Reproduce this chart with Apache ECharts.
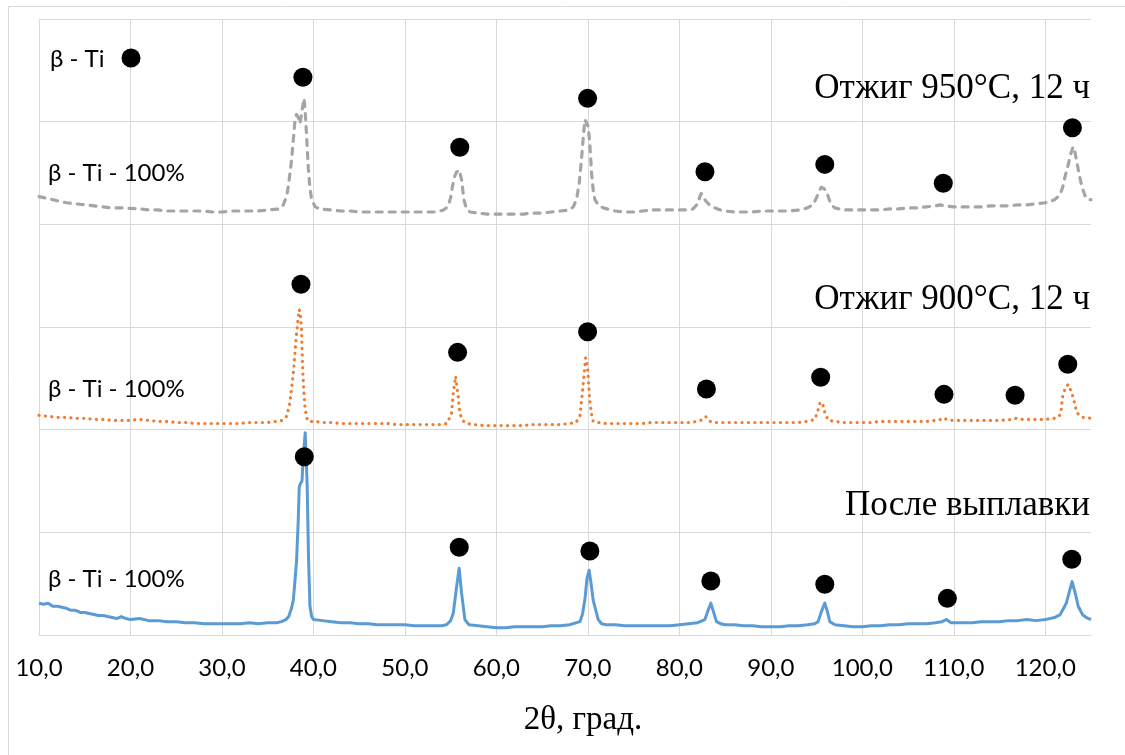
<!DOCTYPE html>
<html>
<head>
<meta charset="utf-8">
<script src="https://cdn.jsdelivr.net/npm/echarts@6/dist/echarts.min.js"></script>
<style>
  html, body { margin: 0; padding: 0; background: #fff; }
  #chart { width: 1125px; height: 755px; }
</style>
</head>
<body>
<div id="chart"></div>
<script>
// X-ray diffraction patterns of the alloy, stacked with vertical offsets.
// Each point is [2θ (deg), intensity (arb. units, offset)].

// as-cast (После выплавки)
const castPattern = [
  [10,31],[10.5,30],[11,31],[11.5,28],[12,28],[12.5,27],[13,26],[13.5,24],[14,24],[14.5,22],
  [15,22],[15.5,21],[16,20],[16.5,19],[17,19],[17.5,18],[18,17],[18.5,16],[19,18],[19.5,16],
  [20,15],[21,16],[22,14],[23,14],[24,13],[25,13],[26,12],[27,12],[28,11],[29,11],[30,11],
  [31,11],[32,11],[33,12],[34,11],[35,12],[36,12],[36.5,13],[37,15],[37.3,18],[37.6,26],
  [37.8,34],[38.0,55],[38.16,73],[38.34,112],[38.45,144],[38.6,148],[38.75,150],[38.89,174],
  [39.1,197],[39.22,170],[39.32,144],[39.47,73],[39.62,28],[39.8,18],[40,15],[41,14],[42,13],
  [43,12],[44,12],[45,11],[46,11],[47,10],[48,10],[49,10],[50,10],[51,9],[52,9],[53,9],[54,9],
  [54.55,10],[55.0,14],[55.28,21],[55.65,47],[55.93,65],[56.19,41],[56.56,15],[57,10],[58,9],
  [59,8],[60,7],[61,7],[62,8],[63,8],[64,8],[65,8],[66,9],[67,9],[68,10],[69.13,13],[69.4,20],
  [69.67,34],[69.9,55],[70.14,63],[70.35,50],[70.58,34],[71.13,15],[71.5,11],[72,10],[73,10],
  [74,9],[75,9],[76,9],[77,9],[78,9],[79,9],[80,10],[81,11],[82,12],[82.79,15],[83.1,23],
  [83.44,31],[83.75,22],[84.06,13],[84.5,11],[85,10],[86,10],[87,9],[88,9],[89,8],[90,8],
  [91,8],[92,9],[93,9],[94,10],[94.8,11],[95.17,13],[95.5,22],[95.9,31],[96.15,24],[96.45,13],
  [97,10],[98,9],[99,8],[100,8],[101,9],[102,9],[103,10],[104,10],[105,11],[106,11],[107,11],
  [108,12],[108.7,13],[109.2,15],[109.7,12],[110,12],[111,12],[112,12],[113,13],[114,13],
  [115,13],[116,14],[117,14],[118,15],[119,14],[120,15],[121,17],[121.6,19.5],[122.3,31],
  [122.93,52],[123.3,40],[123.6,28],[124.1,19.5],[124.5,17],[125,15]
];

// annealed 900 °C, 12 h
const anneal900Pattern = [
  [10,214],[11,213],[12,212],[13,212],[14,211],[15,211],[16,210],[17,210],[18,209],[19,209],
  [20,209],[21,210],[22,209],[23,208],[24,208],[25,207],[26,207],[27,206],[28,206],[29,206],
  [30,206],[31,206],[32,206],[33,207],[34,207],[35,207],[36,208],[36.6,209],[37.07,213],
  [37.4,225],[37.6,239],[37.8,255],[37.98,274],[38.1,288],[38.23,300],[38.35,310],[38.45,317],
  [38.58,312],[38.7,297],[38.8,265],[38.93,240],[39.07,222],[39.25,212],[39.43,208],[40,208],
  [41,207],[42,207],[43,206],[44,206],[45,206],[46,206],[47,206],[48,206],[49,205],[50,205],
  [51,205],[52,205],[53,205],[54,205],[54.6,206],[55.1,216],[55.28,235],[55.54,252],[55.83,232],
  [56.0,216],[56.3,209],[56.74,206],[57.5,205],[58.56,204],[60,204],[61,204],[62,204],[63,204],
  [64,205],[65,205],[66,205],[67,205],[68,206],[68.7,207],[69.13,213],[69.5,245],[69.76,270],
  [69.95,262],[70.2,229],[70.4,215],[70.58,208],[71,207],[72,206],[73,206],[74,206],[75,206],
  [76,206],[77,207],[78,207],[79,207],[80,207],[81,207],[82,208],[82.6,210],[82.9,212.6],
  [83.2,209],[83.6,207],[84,207],[85,207],[86,207],[87,207],[88,207],[89,207],[90,207],[91,207],
  [92,207],[93,207],[94,208],[94.8,210],[95.1,217],[95.4,227],[95.7,224],[95.95,215],[96.3,209],
  [97,208],[98,207],[99,207],[100,207],[101,207],[102,208],[103,208],[104,208],[105,208],
  [106,208],[107,208],[108,209],[108.6,210],[108.9,211.5],[109.3,209.5],[110,209],[111,209],
  [112,209],[113,209],[114,209],[115,209],[116,209.5],[116.8,211],[117.5,210],[118,210],
  [119,210],[120,210],[121,211],[121.5,213],[121.7,216],[121.9,232],[122.2,241],[122.5,244],
  [122.8,238],[123.1,230],[123.3,222],[123.5,216],[124.1,212],[124.5,212],[125,211]
];

// annealed 950 °C, 12 h
const anneal950Pattern = [
  [10,427],[11,425],[12,423],[13,421],[14,420],[15,419],[16,418],[17,417],[18,416],[19,416],
  [20,415.5],[21,415],[22,414],[23,414],[24,413],[25,413],[26,413],[27,413],[28,413],[29,412],
  [30,412],[31,413],[32,413],[33,413],[34,413],[35,414],[36.3,415],[36.7,419],[37.07,427],
  [37.3,440],[37.6,462],[37.8,482],[37.98,501],[38.15,507],[38.28,508],[38.4,503],[38.53,498],
  [38.7,508],[38.85,516],[38.97,522.7],[39.08,512],[39.18,498],[39.3,478],[39.43,456],
  [39.6,437],[39.8,424],[40.2,417],[40.7,415],[42,414],[43,413],[44,413],[45,412],[46,412],
  [47,412],[48,412],[49,412],[50,412],[51,412],[52,412],[53,412],[53.5,412],[54.2,414],
  [54.7,417],[55.0,426],[55.2,437],[55.45,447],[55.65,451],[55.94,453],[56.2,443],[56.45,424],
  [56.7,416],[57.1,412],[58,411],[59,410],[60,410],[61,410],[62,410],[63,410],[64,411],[65,411],
  [66,412],[67,413],[68,414],[68.4,417],[68.76,424],[69.05,440],[69.3,463],[69.5,485],
  [69.67,502],[69.85,503],[70.0,496],[70.15,485],[70.3,466],[70.4,450],[70.6,432],[70.77,424],
  [71.2,418],[71.7,416],[72.5,414],[73,413],[74,412],[75,412],[76,413],[77,414],[78,414],
  [79,414],[80,414],[81,414],[81.5,415],[82.0,420],[82.24,427],[82.4,430],[82.6,426],
  [82.97,422],[83.4,418],[83.9,416],[84.5,414],[85,413],[86,412],[87,412],[88,412],[89,413],
  [90,413],[91,413],[92,413],[93.2,414],[94,416],[94.6,419],[95.0,426],[95.17,430],[95.5,436],
  [95.8,435],[96.1,432],[96.35,425],[96.6,419],[97,416],[97.5,415],[98,414],[99,414],[100,414],
  [101,414],[102,414],[103,415],[104,415],[105,416],[106,416],[107,417],[108,418],[108.5,419],
  [109,418],[110,417],[111,417],[112,417],[113,417],[114,418],[115,418],[116,418],[117,419],
  [118,419],[119,420],[120,421],[120.5,422],[121,424],[121.6,428.5],[121.9,436],[122.15,446],
  [122.5,458],[122.8,469],[123.05,475.6],[123.25,470],[123.4,463],[123.7,449],[124.0,437],
  [124.3,429],[124.5,425],[124.9,424],[125,424]
];

// β-Ti reflection markers placed above each pattern's peaks
const castMarks = [[39.0,173.7],[55.94,85.4],[70.22,81.8],[83.44,52.6],[95.9,49.4],[109.3,35.7],[122.9,73.7]];
const anneal900Marks = [[38.64,341.6],[55.76,275.3],[69.97,295.4],[82.96,239.6],[95.45,251],[108.93,234.4],[116.7,233.5],[122.46,263.7]];
const anneal950Marks = [[38.85,543.2],[56.0,475],[69.97,522.7],[82.8,451.3],[95.9,458.4],[108.85,440],[122.97,494]];

// Tick labels of the 2θ axis and annotation texts
const xTicks = [10,20,30,40,50,60,70,80,90,100,110,120];
const xTitle = '2θ, град.';
const curveTitles = ['Отжиг 950°С, 12 ч', 'Отжиг 900°С, 12 ч', 'После выплавки'];
const phaseLabel = 'β - Ti';
const phaseShare = 'β - Ti - 100%';

const chart = echarts.init(document.getElementById('chart'), null, { renderer: 'canvas' });

const sansFont = 'Lato, "Noto Sans", sans-serif';
const serifFont = '"Liberation Serif", "DejaVu Serif", serif';
const gridColor = '#D9D9D9';

function markSeries(data) {
  return {
    type: 'scatter', data: data, symbol: 'circle', symbolSize: 19,
    itemStyle: { color: '#000', opacity: 1 }, z: 5, silent: true
  };
}

function label(text, x, y, font, align) {
  return {
    type: 'text', x: x, y: y, z: 100,
    style: { text: text, font: font, fill: '#000', textAlign: align || 'left', textVerticalAlign: 'middle' }
  };
}

chart.setOption({
  animation: false,
  backgroundColor: '#fff',
  grid: { left: 39, top: 19, right: 34, bottom: 120, containLabel: false },
  xAxis: {
    type: 'value', min: 10, max: 125, interval: 10,
    axisLine: { show: true, lineStyle: { color: gridColor, width: 1 } },
    axisTick: { show: false },
    axisLabel: {
      color: '#000', fontFamily: sansFont, fontSize: 24, margin: 21,
      showMaxLabel: false,
      formatter: v => xTicks.includes(v) ? v.toFixed(1).replace('.', ',') : ''
    },
    splitLine: { show: true, showMaxLine: false, lineStyle: { color: gridColor, width: 1 } }
  },
  yAxis: {
    type: 'value', min: 0, max: 600, interval: 100,
    axisLine: { show: false }, axisTick: { show: false }, axisLabel: { show: false },
    splitLine: { show: true, lineStyle: { color: gridColor, width: 1 } }
  },
  series: [
    {
      name: curveTitles[2], type: 'line', data: castPattern, showSymbol: false,
      lineStyle: { color: '#5B9BD5', width: 3, join: 'round' }, z: 3
    },
    {
      name: curveTitles[1], type: 'line', data: anneal900Pattern, showSymbol: false,
      lineStyle: { color: '#ED7D31', width: 3.2, type: [0.1, 6.3], cap: 'round', join: 'round' }, z: 3
    },
    {
      name: curveTitles[0], type: 'line', data: anneal950Pattern, showSymbol: false,
      lineStyle: { color: '#A5A5A5', width: 3.2, type: [6, 7], cap: 'round', join: 'round' }, z: 3
    },
    markSeries(castMarks),
    markSeries(anneal900Marks),
    markSeries(anneal950Marks)
  ],
  graphic: [
    { type: 'rect', shape: { x: 8.5, y: 6.5, width: 1140, height: 780 },
      style: { fill: null, stroke: gridColor, lineWidth: 1 }, z: -10, silent: true },
    label(phaseLabel, 50, 59, '24px ' + sansFont),
    { type: 'circle', z: 100, shape: { cx: 131, cy: 58, r: 9.5 }, style: { fill: '#000', stroke: null } },
    label(phaseShare, 48, 173, '24px ' + sansFont),
    label(phaseShare, 48, 389, '24px ' + sansFont),
    label(phaseShare, 48, 579, '24px ' + sansFont),
    label(curveTitles[0], 1090, 89, '35px ' + serifFont, 'right'),
    label(curveTitles[1], 1090, 300, '35px ' + serifFont, 'right'),
    label(curveTitles[2], 1090, 506, '35px ' + serifFont, 'right'),
    label(xTitle, 583, 720, '33px ' + serifFont, 'center')
  ]
});
</script>
</body>
</html>
